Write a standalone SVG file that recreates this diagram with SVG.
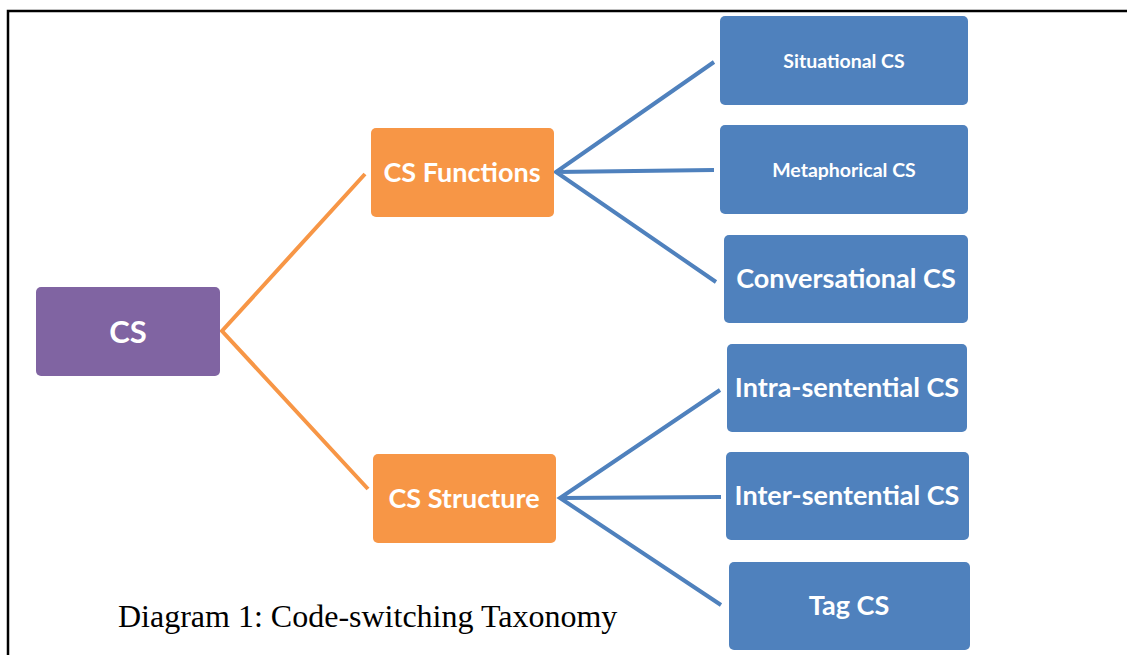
<svg xmlns="http://www.w3.org/2000/svg" width="1127" height="655" viewBox="0 0 1127 655">
<style>
.t{font-family:Lato,"Liberation Sans",sans-serif;font-weight:bold;fill:#fff;text-anchor:middle;dominant-baseline:central}
.big{font-size:27px}
.sm{font-size:19.5px}
.blue{fill:#4F81BD}
.orange{fill:#F79646}
.purple{fill:#8064A2}
.lo{stroke:#F79646;stroke-width:4;fill:none}
.lb{stroke:#4F81BD;stroke-width:4;fill:none}
</style>
<rect width="1127" height="655" fill="#fff"/>
<path d="M8 655 V11 H1127" fill="none" stroke="#000" stroke-width="2.5"/>
<g id="connectors">
<path class="lo" d="M365 174 L222 331 L368 489"/>
<path class="lb" d="M714 62 L556 172 L716 282 M556 172 L714 170"/>
<path class="lb" d="M720 390 L560 498 L721 605 M560 498 L721 497"/>
</g>
<g id="cs"><rect class="purple" x="36" y="287" width="184" height="89" rx="5"/><text class="t" x="128" y="331" style="font-size:31px">CS</text></g>
<g id="functions"><rect class="orange" x="371" y="128" width="183" height="89" rx="5"/><text class="t big" x="462" y="171">CS Functions</text></g>
<g id="structure"><rect class="orange" x="373" y="454" width="183" height="89" rx="5"/><text class="t big" x="464" y="497">CS Structure</text></g>
<g id="situational"><rect class="blue" x="720" y="16" width="248" height="89" rx="5"/><text class="t sm" x="844" y="60">Situational CS</text></g>
<g id="metaphorical"><rect class="blue" x="720" y="125" width="248" height="89" rx="5"/><text class="t sm" x="844" y="169">Metaphorical CS</text></g>
<g id="conversational"><rect class="blue" x="724" y="235" width="244" height="88" rx="5"/><text class="t big" x="846" y="277">Conversational CS</text></g>
<g id="intra"><rect class="blue" x="727" y="344" width="240" height="88" rx="5"/><text class="t big" x="847" y="386">Intra-sentential CS</text></g>
<g id="inter"><rect class="blue" x="726" y="452" width="243" height="88" rx="5"/><text class="t big" x="847" y="494">Inter-sentential CS</text></g>
<g id="tag"><rect class="blue" x="729" y="562" width="241" height="88" rx="5"/><text class="t big" x="849" y="604">Tag CS</text></g>
<text x="118" y="627" style="font-family:'Liberation Serif',serif;font-size:32px;fill:#000">Diagram 1: Code-switching Taxonomy</text>
</svg>
